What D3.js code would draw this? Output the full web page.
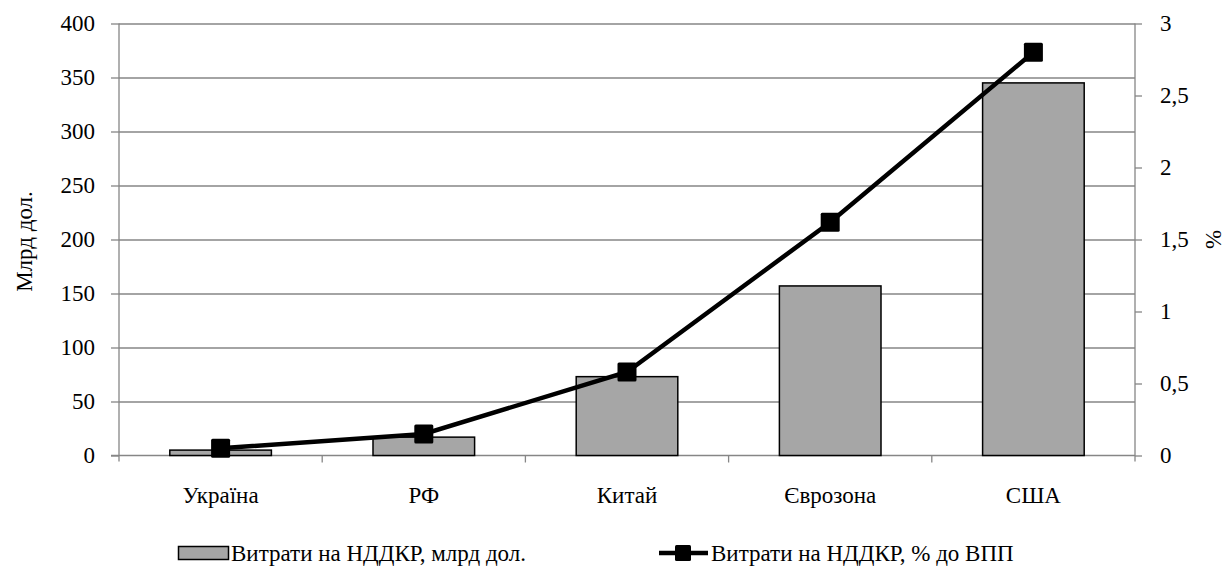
<!DOCTYPE html>
<html>
<head>
<meta charset="utf-8">
<script src="https://cdn.jsdelivr.net/npm/d3@7"></script>
<style>
  body { margin: 0; background: #fff; }
  #vis { width: 1227px; height: 567px; }
</style>
</head>
<body>
<div id="vis"></div>
<script>
var categories = ['Україна', 'РФ', 'Китай', 'Єврозона', 'США'];
var spending = [5, 17, 73, 157, 345];          // млрд дол.
var share = [0.05, 0.15, 0.58, 1.62, 2.8];     // % до ВПП
var leftTicks = [0, 50, 100, 150, 200, 250, 300, 350, 400];
var rightTicks = [0, 0.5, 1, 1.5, 2, 2.5, 3];
var barLabel = 'Витрати на НДДКР, млрд дол.';
var lineLabel = 'Витрати на НДДКР, % до ВПП';

var FONT = "'Liberation Serif', 'Times New Roman', serif";
var FS = '23px';

var width = 1227;
var height = 567;

var margin = {
    top: 23.5,
    bottom: 111.5,
    left: 119,
    right: 92
}

var svg = d3.select('#vis')
    .append('svg')
    .attr('width', width)
    .attr('height', height);

var w = width - margin.left - margin.right;
var h = height - margin.top - margin.bottom;

var g = svg.append('g')
    .attr('transform', 'translate(' + margin.left + ',' + margin.top + ')');

var x_scale = d3.scaleBand()
    .domain(categories)
    .range([0, w])
    .paddingInner(0.5)
    .paddingOuter(0.25);

var band = d3.scaleBand()
    .domain(categories)
    .range([0, w]);

var y_left = d3.scaleLinear()
    .domain([0, 400])
    .range([h, 0]);

var y_right = d3.scaleLinear()
    .domain([0, 3])
    .range([h, 0]);

var fmt = function(d) { return String(d).replace('.', ','); };

function styleText(sel) {
    sel.attr('font-family', FONT)
        .attr('font-size', FS)
        .attr('fill', '#000');
}

// gridlines
g.append('g')
    .selectAll('line')
    .data(leftTicks.slice(1))
    .enter()
    .append('line')
    .attr('x1', 0)
    .attr('x2', w)
    .attr('y1', function(d) { return Math.round(y_left(d)) + 0.5; })
    .attr('y2', function(d) { return Math.round(y_left(d)) + 0.5; })
    .attr('stroke', '#868686')
    .attr('stroke-width', 1.3);

// left axis
var yAxisL = g.append('g')
    .call(d3.axisLeft(y_left).tickValues(leftTicks).tickSize(8).tickPadding(16));
yAxisL.attr('font-family', null).attr('font-size', null);
yAxisL.selectAll('path, line').attr('stroke', '#868686').attr('stroke-width', 1.3);
yAxisL.select('.domain').attr('d', 'M0,0V' + (h + 6));
styleText(yAxisL.selectAll('text'));

// right axis
var yAxisR = g.append('g')
    .attr('transform', 'translate(' + w + ',0)')
    .call(d3.axisRight(y_right).tickValues(rightTicks).tickSize(7).tickPadding(18).tickFormat(fmt));
yAxisR.attr('font-family', null).attr('font-size', null);
yAxisR.selectAll('path, line').attr('stroke', '#868686').attr('stroke-width', 1.3);
yAxisR.select('.domain').attr('d', 'M0,0V' + (h + 6));
styleText(yAxisR.selectAll('text'));

// bottom axis
var xAxis = g.append('g')
    .attr('transform', 'translate(0,' + h + ')')
    .call(d3.axisBottom(band).tickSize(0).tickPadding(31));
xAxis.attr('font-family', null).attr('font-size', null);
xAxis.selectAll('.domain').attr('stroke', '#868686').attr('stroke-width', 1.3).attr('d', 'M-8,0H' + w);
styleText(xAxis.selectAll('text'));
xAxis.selectAll('.sep')
    .data(categories.slice(1))
    .enter()
    .append('line')
    .attr('class', 'sep')
    .attr('x1', function(d) { return band(d); })
    .attr('x2', function(d) { return band(d); })
    .attr('y1', 0)
    .attr('y2', 7)
    .attr('stroke', '#868686')
    .attr('stroke-width', 1.3);

// bars
g.selectAll('.bar')
    .data(spending)
    .enter()
    .append('rect')
    .attr('class', 'bar')
    .attr('x', function(d, i) { return x_scale(categories[i]); })
    .attr('width', x_scale.bandwidth())
    .attr('y', function(d) { return y_left(d); })
    .attr('height', function(d) { return h - y_left(d); })
    .attr('fill', '#a6a6a6')
    .attr('stroke', '#000')
    .attr('stroke-width', 1.5);

// line
var line = d3.line()
    .x(function(d, i) { return band(categories[i]) + band.bandwidth() / 2; })
    .y(function(d) { return y_right(d); });

g.append('path')
    .datum(share)
    .attr('d', line)
    .attr('fill', 'none')
    .attr('stroke', '#000')
    .attr('stroke-width', 4.5);

var ms = 19;
g.selectAll('.marker')
    .data(share)
    .enter()
    .append('rect')
    .attr('class', 'marker')
    .attr('x', function(d, i) { return band(categories[i]) + band.bandwidth() / 2 - ms / 2; })
    .attr('y', function(d) { return y_right(d) - ms / 2; })
    .attr('width', ms)
    .attr('height', ms)
    .attr('rx', 1.5)
    .attr('fill', '#000');

// axis titles
svg.append('text')
    .attr('transform', 'translate(32,' + (margin.top + h / 2 + 2) + ') rotate(-90)')
    .attr('text-anchor', 'middle')
    .call(styleText)
    .text('Млрд дол.');

svg.append('text')
    .attr('transform', 'translate(1221,' + (margin.top + h / 2) + ') rotate(-90)')
    .attr('text-anchor', 'middle')
    .call(styleText)
    .text('%');

// legend
var legY = 553;
svg.append('rect')
    .attr('x', 178.5)
    .attr('y', legY - 6.5)
    .attr('width', 50)
    .attr('height', 13)
    .attr('fill', '#a6a6a6')
    .attr('stroke', '#000')
    .attr('stroke-width', 1.5);
svg.append('text')
    .attr('x', 231)
    .attr('y', legY)
    .attr('dy', '0.35em')
    .call(styleText)
    .text(barLabel);

svg.append('line')
    .attr('x1', 659)
    .attr('x2', 708)
    .attr('y1', legY)
    .attr('y2', legY)
    .attr('stroke', '#000')
    .attr('stroke-width', 4.5);
svg.append('rect')
    .attr('x', 683 - 8)
    .attr('y', legY - 8)
    .attr('width', 16)
    .attr('height', 16)
    .attr('rx', 1.5)
    .attr('fill', '#000');
svg.append('text')
    .attr('x', 711)
    .attr('y', legY)
    .attr('dy', '0.35em')
    .call(styleText)
    .text(lineLabel);
</script>
</body>
</html>
